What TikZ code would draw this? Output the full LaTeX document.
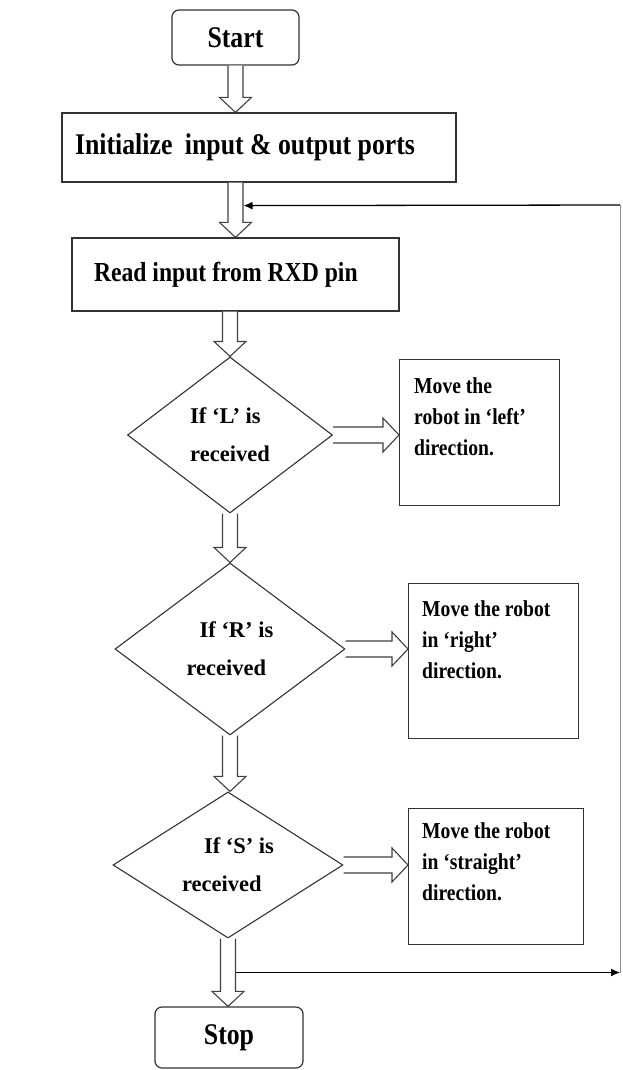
\documentclass[tikz,border=0pt]{standalone}
\usepackage{fontspec}
\setmainfont{Liberation Serif}
\newfontfamily\condfont{Liberation Serif}[FakeStretch=0.86]
\usetikzlibrary{shapes.geometric,calc,arrows.meta}
\tikzset{
  box/.style={draw=black!80, line width=1.2pt, rectangle, inner sep=0pt},
  rbox/.style={box, rounded corners=7pt},
  bigtext/.style={font=\condfont\bfseries\fontsize{30}{34}\selectfont},
  dia/.style={draw=black!80, line width=1.1pt, diamond, inner sep=0pt, align=left,
    font=\bfseries\fontsize{22.5}{38}\selectfont},
  boxtext/.style={anchor=north west, align=left, inner xsep=15pt, inner ysep=18pt,
    font=\condfont\bfseries\fontsize{22.8}{31}\selectfont},
  hollow/.style={draw=black!75, line width=1.1pt, fill=white, line join=miter},
  loopline/.style={draw=black, line width=1.3pt},
  vline/.style={draw=black!45, line width=0.9pt},
}
\newcommand{\hdown}[2]{%
  \draw[hollow] let \p1=#1, \p2=#2 in
    (\x1-7.5pt,\y1) -- (\x1-7.5pt,\y2+15pt) -- (\x1-16pt,\y2+15pt) -- (\x1,\y2)
    -- (\x1+16pt,\y2+15pt) -- (\x1+7.5pt,\y2+15pt) -- (\x1+7.5pt,\y1);}
\newcommand{\hright}[2]{%
  \draw[hollow] let \p1=#1, \p2=#2 in
    (\x1,\y1+8pt) -- (\x2-16pt,\y1+8pt) -- (\x2-16pt,\y1+17pt) -- (\x2,\y1)
    -- (\x2-16pt,\y1-17pt) -- (\x2-16pt,\y1-8pt) -- (\x1,\y1-8pt);}
\begin{document}
\begin{tikzpicture}[x=1pt,y=-1pt]
\useasboundingbox (0,0) rectangle (622,1070);

\node[rbox, bigtext, minimum width=127pt, minimum height=55pt] (start) at (235.5,37.5) {Start};
\node[box, bigtext, inner xsep=13pt, minimum height=69pt] (init) at (259,147.5)
  {\makebox[368pt][l]{Initialize\hspace{0.2em} input \& output ports}};
\node[box, font=\condfont\bfseries\fontsize{27.5}{32}\selectfont, inner xsep=22pt, minimum height=73pt] (read) at (235.5,274.5)
  {\makebox[283pt][l]{Read input from RXD pin}};

\node[dia, minimum width=205pt, minimum height=156pt] (d1) at (230,435) {If ‘L’ is\\received};
\node[dia, minimum width=230pt, minimum height=172pt] (d2) at (230,649) {\hspace*{13pt}If ‘R’ is\\received};
\node[dia, minimum width=230pt, minimum height=146pt] (d3) at (228,865) {\hspace*{22pt}If ‘S’ is\\received};

\node[box, anchor=north west, minimum width=160pt, minimum height=146pt,
  label={[boxtext]north west:Move the\\robot in ‘left’\\direction.}] (bl) at (399,359) {};
\node[box, anchor=north west, minimum width=170pt, minimum height=155pt,
  label={[boxtext, inner xsep=14pt, inner ysep=17pt]north west:Move the robot\\in ‘right’\\direction.}] (br) at (408,583) {};
\node[box, anchor=north west, minimum width=175pt, minimum height=136pt,
  label={[boxtext, inner xsep=14pt, inner ysep=14pt]north west:Move the robot\\in ‘straight’\\direction.}] (bs) at (408,808) {};

\node[rbox, bigtext, minimum width=148pt, minimum height=61pt] (stop) at (229,1037.5) {Stop};

% hollow block arrows
\hdown{(start.south)}{(start.south |- init.north)}
\hdown{(read.north |- init.south)}{(read.north)}
\hdown{(read.south -| d1.north)}{(d1.north)}
\hdown{(d1.south)}{(d2.north)}
\hdown{(d2.south)}{(d3.north)}
\hdown{(d3.south)}{(d3.south |- stop.north)}
\hright{(d1.east)}{(bl.west)}
\hright{(d2.east)}{(br.west)}
\hright{(d3.east)}{(bs.west)}

% loop back
\coordinate (l1) at ($(d3.south)!0.5!(d3.south |- stop.north)+(7.5,0)$);
\coordinate (l0) at ($(read.north |- init.south)!0.42!(read.north)+(8,0)$);
\coordinate (rt) at (620,205);
\coordinate (rb) at (rt |- l1);
\draw[vline] (rb) -- (rt);
\draw[loopline,-{Latex[length=9pt,width=8pt]}] (l1) -- (rb);
\draw[loopline,-{Latex[length=9pt,width=8pt]}] (rt) -- (l0);
\end{tikzpicture}
\end{document}
